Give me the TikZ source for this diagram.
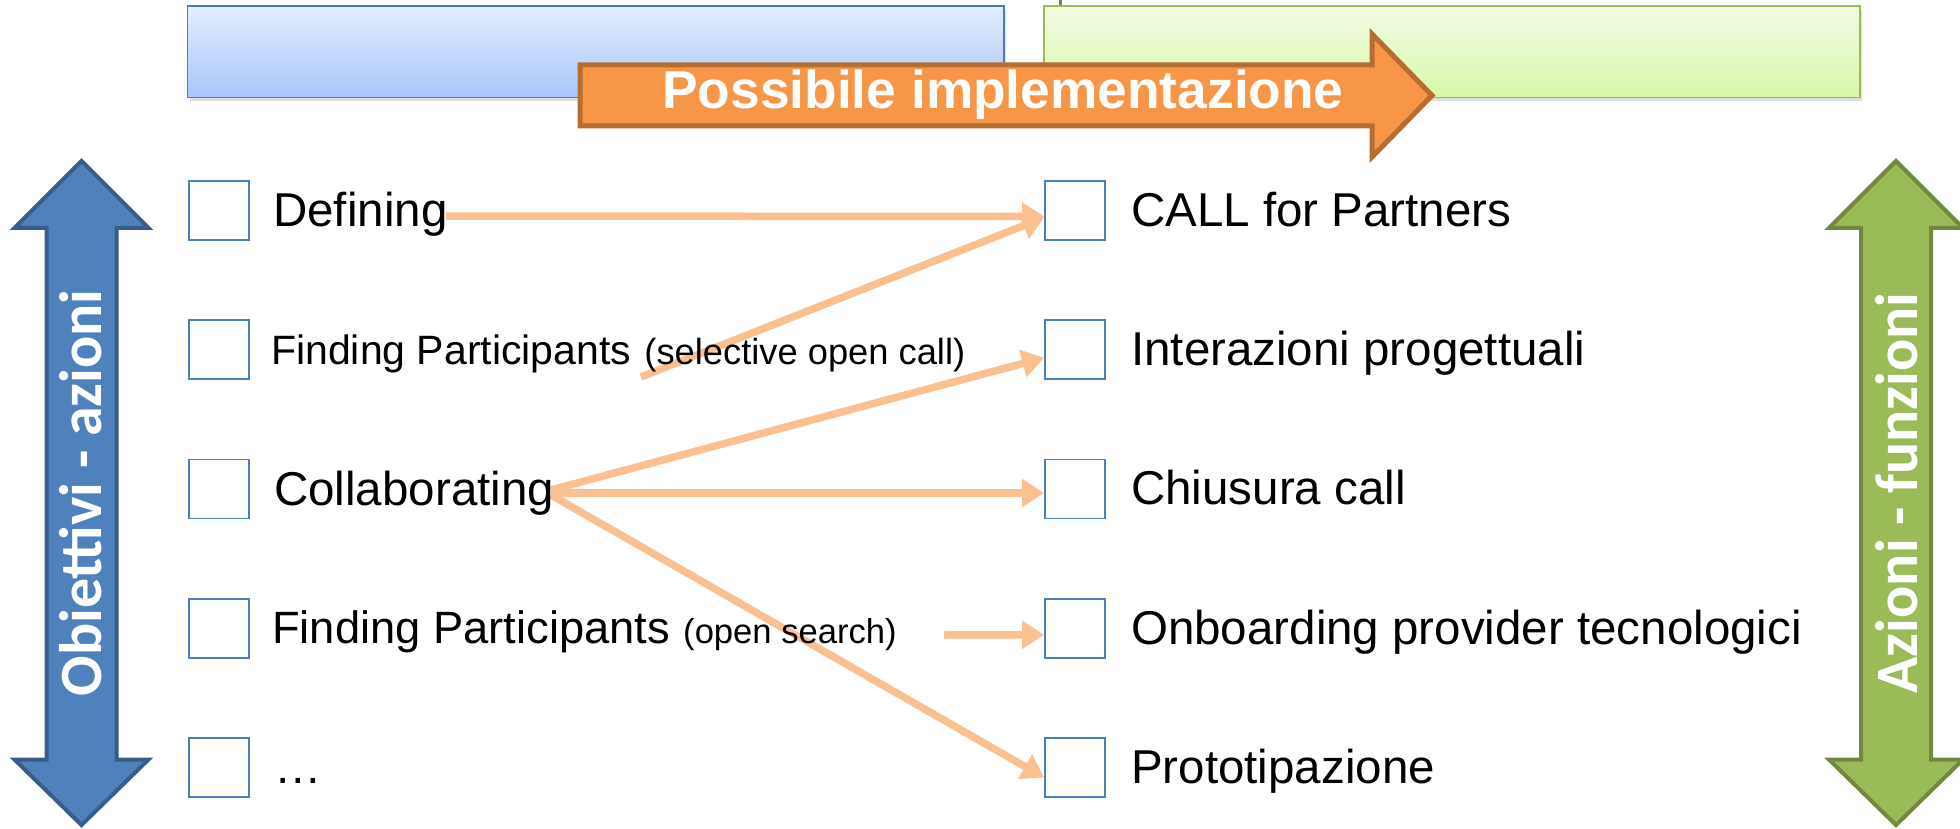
\documentclass[tikz,border=0pt]{standalone}
\usepackage{fontspec}
\setmainfont{Liberation Sans}
\newfontfamily\calfont{Carlito}
\usetikzlibrary{arrows.meta,shadows,calc}
\pgfdeclarelayer{background}
\pgfsetlayers{background,main}
\definecolor{boxline}{HTML}{4A7EBB}
\definecolor{bluetop}{HTML}{E3EDFD}
\definecolor{bluebot}{HTML}{A7C7FB}
\definecolor{greentop}{HTML}{F3FBE5}
\definecolor{greenbot}{HTML}{D9F8A8}
\definecolor{greenline}{HTML}{9BBB59}
\definecolor{greendark}{HTML}{71893F}
\definecolor{bluefill}{HTML}{4F81BD}
\definecolor{bluedark}{HTML}{385D8A}
\definecolor{orfill}{HTML}{F79646}
\definecolor{ordark}{HTML}{B66D31}
\definecolor{conncol}{HTML}{FAC090}
\tikzset{
  cb/.style={draw=boxline, line width=1.8pt, fill=white, minimum width=60pt, minimum height=59pt, inner sep=0pt},
  hdr/.style={minimum height=91.5pt, inner sep=0pt, line width=1.8pt,
     drop shadow={opacity=0.25, shadow xshift=2pt, shadow yshift=-4pt}},
  lt/.style={anchor=base west, inner sep=0pt, font=\fontsize{47.5}{57}\selectfont},
  conn/.style={draw=conncol, line width=7.5pt, -{Triangle[length=22pt,width=27pt]}},
  bigarrow/.style={line width=4pt, line join=miter},
  sidetext/.style={rotate=90, text=white, inner sep=0pt, font=\calfont\bfseries\fontsize{60}{70}\selectfont}
}
\begin{document}
\begin{tikzpicture}[x=1pt,y=-1pt]
\useasboundingbox (0,0) rectangle (1960,829);

% header boxes
\node[hdr, draw=boxline, top color=bluetop, bottom color=bluebot, minimum width=816.5pt] (hb) at (595.75,51.75) {};
\node[hdr, draw=greenline, top color=greentop, bottom color=greenbot, minimum width=816pt] (hg) at (1452,51.75) {};
\draw[greendark, line width=3pt] (hg.north west) ++(17,0) coordinate (gt) -- ++(0,-7);

% orange arrow
\draw[bigarrow, draw=ordark, fill=orfill, line width=5pt] (580,65) -- (1372,65) -- (1372,34) -- (1432,95.5) -- (1372,157) -- (1372,126) -- (580,126) -- cycle;
\node[text=white, inner sep=0pt, font=\bfseries\fontsize{53.3}{60}\selectfont] (pi) at (1003,95) {Possibile implementazione};

% left double arrow
\draw[bigarrow, draw=bluedark, fill=bluefill] (81.5,161) -- (148.5,228) -- (116.5,228) -- (116.5,759.5) -- (148.5,759.5) -- (81.5,825) -- (14.5,759.5) -- (46.5,759.5) -- (46.5,228) -- (14.5,228) -- cycle;
\node[sidetext] (lt) at (81,493) {Obiettivi - azioni};

% right double arrow
\draw[bigarrow, draw=greendark, fill=greenline] (1896,161) -- (1963,228) -- (1931,228) -- (1931,759.5) -- (1963,759.5) -- (1896,825) -- (1829,759.5) -- (1861,759.5) -- (1861,228) -- (1829,228) -- cycle;
\node[sidetext] (rt) at (1897,493) {Azioni - funzioni};

% checkboxes
\foreach \i/\yy in {1/210.5,2/349.75,3/489,4/628.25,5/767.5}{
  \node[cb] (l\i) at (219,\yy) {};
  \node[cb] (r\i) at (1075,\yy) {};
}

% left texts
\node[lt] (t1) at (273,226) {Defining};
\node[lt] (t2) at (271,364) {{\fontsize{41}{49}\selectfont Finding Participants} {\fontsize{36.3}{43}\selectfont (selective open call)}};
\node[lt] (t3) at (274,505) {Collaborating};
\node[lt] (t4) at (272,643) {{\fontsize{45.3}{54}\selectfont Finding Participants} {\fontsize{34.6}{42}\selectfont (open search)}};
\node[lt] (t5) at (274,783) {…};

% right texts
\node[lt] (u1) at (1131,226) {CALL for Partners};
\node[lt] (u2) at (1131,365) {Interazioni progettuali};
\node[lt] (u3) at (1131,504) {Chiusura call};
\node[lt] (u4) at (1131,644) {Onboarding provider tecnologici};
\node[lt] (u5) at (1131,783) {Prototipazione};

% connector start points
\coordinate (s1) at (446,216);
\coordinate (s2) at (641,377);
\coordinate (s3) at (551,490);
\coordinate (s4) at (551,493);
\coordinate (s5) at (551,495);
\coordinate (s6) at (944,635);

\begin{pgfonlayer}{background}
\draw[conn] (s1) -- ([yshift=-6pt]r1.west);
\draw[conn] (s2) -- ([yshift=-7pt]r1.west);
\draw[conn] (s3) -- ([yshift=-8pt]r2.west);
\draw[conn] (s4) -- ([yshift=-4pt]r3.west);
\draw[conn] (s6) -- ([yshift=-6.5pt]r4.west);
\draw[conn] (s5) -- ([yshift=-10pt]r5.west);
\end{pgfonlayer}
\end{tikzpicture}
\end{document}
